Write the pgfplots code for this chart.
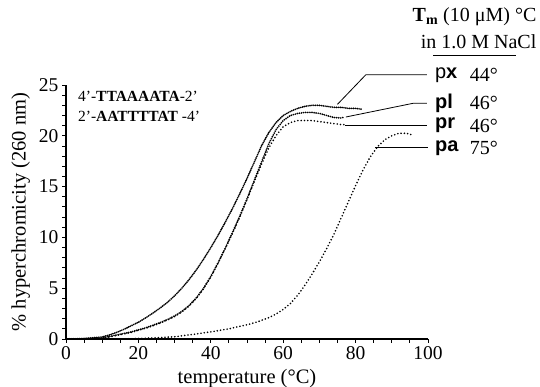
\documentclass[border=0pt]{standalone}
\usepackage{fontspec}
\setmainfont{Liberation Serif}
\newfontfamily\arial{Liberation Sans}
\usepackage{pgfplots}
\pgfplotsset{compat=1.18}
\begin{document}
\begin{tikzpicture}
\useasboundingbox (0,0) rectangle (540pt,387pt);
\begin{axis}[
 at={(66pt,48pt)}, anchor=south west, scale only axis, width=362pt, height=254pt,
 xmin=0, xmax=100, ymin=0, ymax=25,
 axis lines*=left, axis line style={line width=1.4pt},
 xtick={0,20,...,100}, ytick={0,5,...,25}, minor x tick num=3, minor y tick num=4,
 tick align=outside, major tick length=4pt, minor tick length=4pt,
 tick style={line width=0.9pt, black},
 /pgf/number format/assume math mode=true,
 ticklabel style={font=\fontsize{19.5}{21}\selectfont},
 xlabel={temperature (°C)}, ylabel={\% hyperchromicity (260 nm)},
 label style={font=\fontsize{20.5}{22}\selectfont},
 xlabel style={at={(axis description cs:0.5,-0.157)}, anchor=center},
 ylabel style={at={(axis description cs:-0.125,0.5)}, anchor=center},
 clip=false,
]
% px
\addplot[black, line width=1.9pt, line cap=round, dash pattern=on 0pt off 1.9pt] coordinates {
(0,0) (5,0.05) (10,0.2) (12,0.4) (14,0.65) (16,0.95) (18,1.3) (20,1.65) (22,2.08) (24,2.55) (26,3.05) (28,3.6) (30,4.25) (32,5.0) (34,5.85) (36,6.8) (38,7.85) (40,9.0) (42,10.2) (44,11.5) (46,12.85) (48,14.3) (50,15.8) (52,17.4) (54,19.0) (56,20.3) (58,21.3) (60,22.0) (62,22.4) (64,22.7) (66,22.9) (68,23.0) (70,23.0) (72,22.9) (74,22.8) (76,22.8) (78,22.7) (80,22.7) (82,22.6)};
% pl
\addplot[black, line width=1.9pt, line cap=round, dash pattern=on 0pt off 2.1pt] coordinates {
(0,0) (5,0) (10,0.1) (12,0.25) (14,0.4) (16,0.55) (18,0.7) (20,0.9) (22,1.1) (24,1.35) (26,1.62) (28,1.92) (30,2.27) (32,2.72) (34,3.3) (36,4.05) (38,5.0) (40,6.15) (42,7.5) (44,8.95) (46,10.5) (48,12.1) (50,13.8) (52,15.6) (54,17.4) (56,19.2) (58,20.6) (60,21.5) (62,22.0) (64,22.2) (66,22.3) (68,22.3) (70,22.2) (72,22.0) (74,21.8) (76,21.75) (77,21.85)};
% pr
\addplot[black, line width=1.8pt, line cap=round, dash pattern=on 0pt off 3.3pt] coordinates {
(0,0) (5,0) (10,0.05) (12,0.2) (14,0.35) (16,0.5) (18,0.65) (20,0.85) (22,1.05) (24,1.3) (26,1.56) (28,1.86) (30,2.2) (32,2.66) (34,3.25) (36,4.0) (38,4.95) (40,6.1) (42,7.45) (44,8.9) (46,10.4) (48,12.0) (50,13.7) (52,15.5) (54,17.2) (56,18.8) (58,20.0) (60,20.9) (62,21.3) (64,21.5) (66,21.5) (68,21.5) (70,21.4) (72,21.3) (74,21.2) (76,21.1) (77,21.1)};
% pa
\addplot[black, line width=1.8pt, line cap=round, dash pattern=on 0pt off 3.3pt] coordinates {
(0,0) (5,0) (10,0) (15,0) (20,0.05) (25,0.12) (30,0.22) (35,0.45) (40,0.7) (45,1.0) (50,1.4) (53,1.7) (56,2.1) (58,2.45) (60,2.9) (62,3.5) (64,4.3) (66,5.3) (68,6.4) (70,7.6) (72,8.9) (74,10.3) (76,11.9) (78,13.5) (80,15.1) (82,16.6) (84,17.9) (86,18.9) (88,19.6) (90,20.0) (92,20.25) (94,20.25) (95.5,20.1)};
% leaders
\draw[line width=0.8pt] (axis cs:75,23.1) -- (axis cs:82.8,26.0) -- (axis cs:99.7,26.0);
\draw[line width=0.8pt] (axis cs:77.3,21.85) -- (axis cs:95.9,23.2) -- (axis cs:99.7,23.2);
\draw[line width=0.8pt] (axis cs:77.2,21.0) -- (axis cs:99.7,21.0);
\draw[line width=0.8pt] (axis cs:85.4,18.9) -- (axis cs:99.9,18.9);
% labels
\tikzset{lab/.style={anchor=west, inner sep=0pt, font=\fontsize{20}{22}\selectfont}}
\node[lab] at (axis cs:101.9,26.0) {\arial p\textbf{x}};
\node[lab] at (axis cs:101.9,23.2) {\arial\bfseries pl};
\node[lab] at (axis cs:101.9,21.0) {\arial\bfseries pr};
\node[lab] at (axis cs:101.9,18.8) {\arial\bfseries pa};
\node[lab] at (axis cs:111.5,26.0) {44°};
\node[lab] at (axis cs:111.5,23.2) {46°};
\node[lab] at (axis cs:111.5,21.0) {46°};
\node[lab] at (axis cs:111.5,18.8) {75°};
\node[anchor=west, inner sep=0pt, font=\fontsize{15.5}{17}\selectfont] at (axis cs:3.3,23.9) {4'-\textbf{TTAAAATA}-2'};
\node[anchor=west, inner sep=0pt, font=\fontsize{15.5}{17}\selectfont] at (axis cs:3.3,21.95) {2'-\textbf{AATTTTAT} -4'};
\node[anchor=east, inner sep=0pt, font=\fontsize{20}{22}\selectfont] at (axis cs:130,31.7) {\textbf{T\textsubscript{m}} (10 μM) °C};
\node[anchor=east, inner sep=0pt, font=\fontsize{20}{22}\selectfont] at (axis cs:130,29.3) {in 1.0 M NaCl};
\draw[line width=0.8pt] (axis cs:101.5,27.95) -- (axis cs:124.4,27.95);
\end{axis}
\end{tikzpicture}
\end{document}
